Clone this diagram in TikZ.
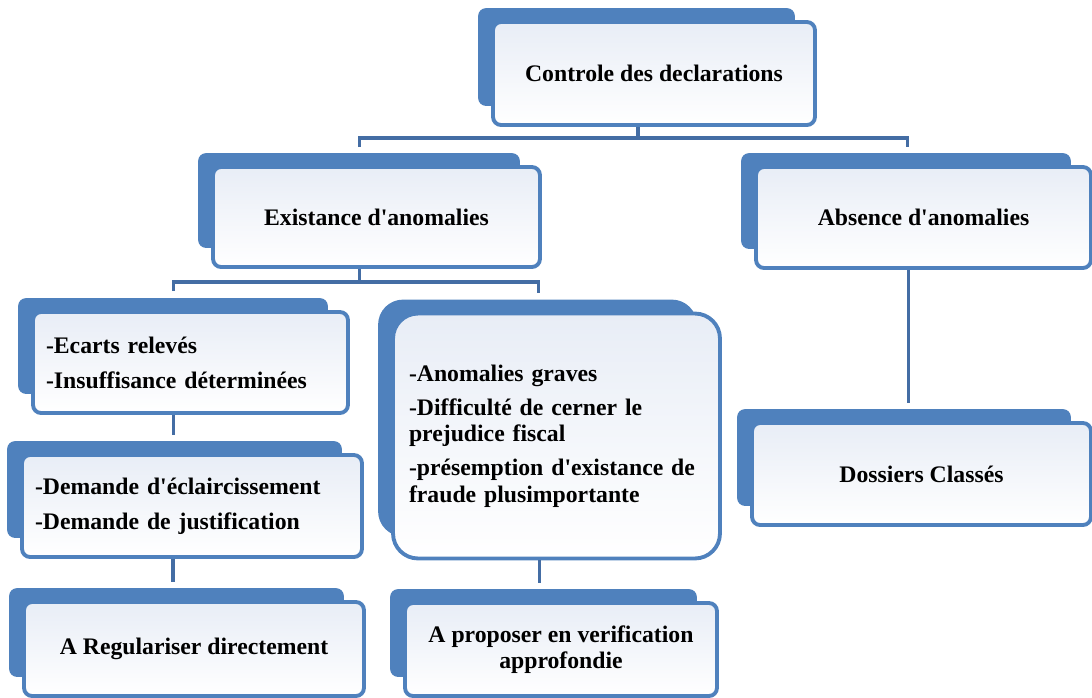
\documentclass[tikz,border=0pt]{standalone}
\usepackage{fontspec}
\setmainfont{Liberation Serif}
\usepackage{tikz}
\usetikzlibrary{calc,backgrounds,positioning}
\definecolor{cardblue}{RGB}{79,129,189}
\definecolor{cardfill}{RGB}{232,237,246}
\definecolor{linkblue}{RGB}{68,109,164}
\newcommand{\apos}{\textquotesingle}

\begin{document}
\begin{tikzpicture}[
    x=0.02cm, y=-0.02cm,
    card/.style={draw=cardblue, line width=2.2pt, rounded corners=0.16cm, top color=cardfill, middle color=cardfill, bottom color=white, align=center, inner sep=0pt, font=\bfseries\fontsize{13.5}{15}\selectfont},
    listcard/.style={card, align=left, inner xsep=0.26cm},
    backcard/.style={fill=cardblue, rounded corners=0.16cm},
    link/.style={linkblue, line width=2.2pt}
  ]
    \useasboundingbox (0,0) rectangle (1092,697);

    % Boxes
    \node[card, minimum width=6.44cm, minimum height=2.06cm] (ctrl) at (654,73.5) {Controle des declarations};
    \node[card, minimum width=6.54cm, minimum height=2cm] (exist) at (376.5,217) {Existance d\apos anomalies};
    \node[card, minimum width=6.7cm, minimum height=2.02cm] (absence) at (923.5,217.5) {Absence d\apos anomalies};

    \node[listcard, minimum width=6.3cm, minimum height=2.02cm, text width=5.78cm] (ecarts) at (190.5,362.5) {-Ecarts relevés\\[5pt]-Insuffisance déterminées};
    \node[listcard, minimum width=6.8cm, minimum height=2.04cm, text width=6.28cm] (demande) at (192,506) {-Demande d\apos éclaircissement\\[5pt]-Demande de justification};
    \node[card, minimum width=6.8cm, minimum height=1.88cm] (regul) at (194,649) {A Regulariser directement};

    \node[listcard, rounded corners=0.5cm, inner xsep=0.32cm, minimum width=6.54cm, minimum height=4.9cm, text width=5.9cm] (graves) at (556.5,436) {-Anomalies graves\\[4.5pt]-Difficulté de cerner le\\prejudice fiscal\\[4.5pt]-présemption d\apos existance de\\fraude plusimportante};
    \node[card, minimum width=6.24cm, minimum height=1.86cm] (proposer) at (561,649.5) {A proposer en verification\\approfondie};

    \node[card, minimum width=6.78cm, minimum height=2.04cm] (classes) at (921.5,474) {Dossiers Classés};

    % Blue blocks behind the boxes
    \begin{scope}[on background layer]
      \foreach \n in {ctrl,exist,absence,ecarts,demande,regul,proposer,classes}
        \fill[backcard] ($(\n.north west)+(-13,-12)$) rectangle ($(\n.south east)+(-22,-21)$);
      \fill[backcard, rounded corners=0.5cm] ($(graves.north west)+(-13,-12)$) rectangle ($(graves.south east)+(-25,-24)$);
    \end{scope}

    % Connectors
    \coordinate (topbus) at (0,138);
    \coordinate (midbus) at (0,282);
    \coordinate (c1) at ($(ctrl.south)+(-16,0)$);
    \coordinate (e1) at ($(exist.north)+(-17,-18)$);
    \coordinate (a1) at ($(absence.north)+(-16,-18)$);
    \draw[link] (c1) -- (c1 |- topbus);
    \draw[link] (e1) |- (a1 |- topbus) -- (a1);

    \coordinate (e2) at ($(exist.south)+(-17,0)$);
    \coordinate (ec1) at ($(ecarts.north)+(-17,-19)$);
    \coordinate (gr1) at ($(graves.north)+(-18,-19)$);
    \draw[link] (e2) -- (e2 |- midbus);
    \draw[link] (ec1) |- (gr1 |- midbus) -- (gr1);

    \draw[link] ($(ecarts.south)+(-17,0)$) -- ($(ecarts.south |- demande.north)+(-17,-18)$);
    \draw[link] ($(demande.south)+(-19,0)$) -- ($(demande.south |- regul.north)+(-19,-18)$);
    \draw[link] ($(graves.south)+(-17,0)$) -- ($(graves.south |- proposer.north)+(-17,-18)$);
    \draw[link] ($(absence.south)+(-15,0)$) -- ($(absence.south |- classes.north)+(-15,-18)$);
  \end{tikzpicture}
\end{document}
